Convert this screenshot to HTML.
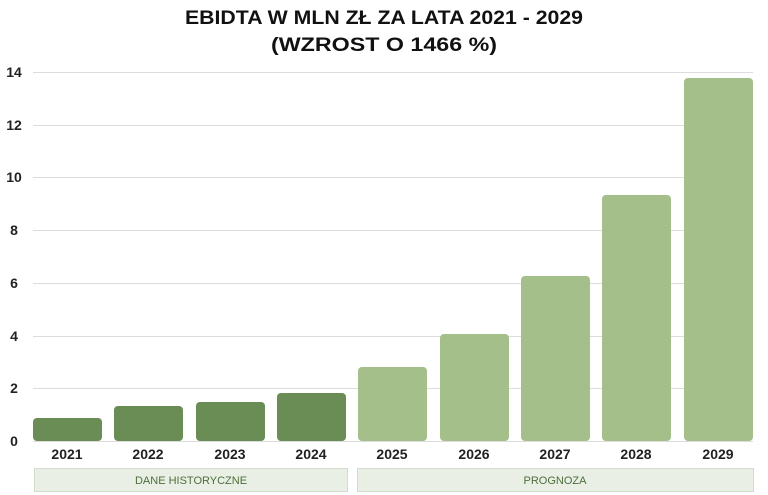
<!DOCTYPE html>
<html><head><meta charset="utf-8"><style>
html,body{margin:0;padding:0;background:#fff;}
svg{display:block;font-family:"Liberation Sans",sans-serif;}
</style></head><body>
<svg width="768" height="495" viewBox="0 0 768 495">
<text x="185" y="24" textLength="398" lengthAdjust="spacingAndGlyphs" font-size="19" font-weight="bold" fill="#111">EBIDTA W MLN ZŁ ZA LATA 2021 - 2029</text>
<text x="271" y="51" textLength="226" lengthAdjust="spacingAndGlyphs" font-size="19" font-weight="bold" fill="#111">(WZROST O 1466 %)</text>
<g stroke="#dcdcdc" stroke-width="1">
<line x1="33" x2="753" y1="72.5" y2="72.5"/><line x1="33" x2="753" y1="125.5" y2="125.5"/>
<line x1="33" x2="753" y1="177.5" y2="177.5"/><line x1="33" x2="753" y1="230.5" y2="230.5"/>
<line x1="33" x2="753" y1="283.5" y2="283.5"/><line x1="33" x2="753" y1="336.5" y2="336.5"/>
<line x1="33" x2="753" y1="388.5" y2="388.5"/><line x1="33" x2="753" y1="441.5" y2="441.5"/>
</g>
<g font-size="14" font-weight="bold" fill="#222" text-anchor="middle">
<text x="14" y="77">14</text><text x="14" y="130">12</text><text x="14" y="182">10</text>
<text x="14" y="235">8</text><text x="14" y="288">6</text><text x="14" y="341">4</text>
<text x="14" y="393">2</text><text x="14" y="446">0</text>
</g>
<g fill="#6a8c55">
<rect x="33" y="418" width="69" height="23" rx="4"/>
<rect x="114" y="406" width="69" height="35" rx="4"/>
<rect x="196" y="402" width="69" height="39" rx="4"/>
<rect x="277" y="393" width="69" height="48" rx="4"/>
</g>
<g fill="#a5bf8a">
<rect x="358" y="367" width="69" height="74" rx="4"/>
<rect x="440" y="334" width="69" height="107" rx="4"/>
<rect x="521" y="276" width="69" height="165" rx="4"/>
<rect x="602" y="195" width="69" height="246" rx="4"/>
<rect x="684" y="78" width="69" height="363" rx="4"/>
</g>
<g font-size="14" font-weight="bold" fill="#222" text-anchor="middle">
<text x="67" y="459">2021</text><text x="148" y="459">2022</text><text x="230" y="459">2023</text>
<text x="311" y="459">2024</text><text x="392" y="459">2025</text><text x="474" y="459">2026</text>
<text x="555" y="459">2027</text><text x="636" y="459">2028</text><text x="718" y="459">2029</text>
</g>
<rect x="34.5" y="468.5" width="313" height="23" fill="#e9efe4" stroke="#d5dccf"/>
<rect x="357.5" y="468.5" width="396" height="23" fill="#e9efe4" stroke="#d5dccf"/>
<text x="191" y="484" text-anchor="middle" font-size="11" fill="#4e6e3c">DANE HISTORYCZNE</text>
<text x="555" y="484" text-anchor="middle" font-size="11" fill="#4e6e3c">PROGNOZA</text>
</svg>
</body></html>
